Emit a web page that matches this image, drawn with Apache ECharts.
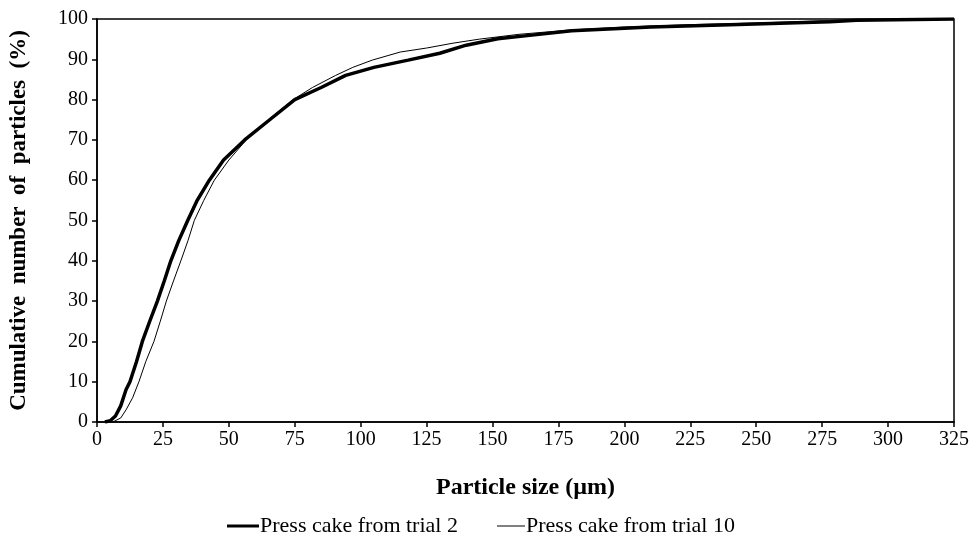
<!DOCTYPE html>
<html>
<head>
<meta charset="utf-8">
<script src="https://cdn.jsdelivr.net/npm/echarts@6/dist/echarts.min.js"></script>
<style>
  html, body { margin: 0; padding: 0; background: #fff; }
  #chart { width: 972px; height: 539px; }
</style>
</head>
<body>
<div id="chart"></div>
<script>
  // particle size (um) and cumulative number (%)
  var sizeTrial2 = [3, 5, 7, 9, 11, 12.5, 15, 17.2, 20, 22.9, 25.5, 28, 31, 34.4, 38, 42.6, 48, 56, 65.5, 75,
    85, 94.3, 105, 118, 130, 140, 152, 165, 180, 210, 240, 278, 288, 325]
  var cumTrial2 = [0, 0.3, 1.5, 4, 8, 10, 15, 20, 25, 30, 35, 40, 45, 50, 55, 60, 65, 70, 75, 80,
    83, 86, 88, 89.8, 91.5, 93.5, 95.1, 96, 97.1, 98, 98.6, 99.3, 99.7, 100]

  var sizeTrial10 = [6, 9, 11, 13.5, 15.9, 18.5, 21.6, 24, 26.3, 29, 31.8, 34.5, 36.9, 40.5, 44.5, 50, 56.6, 65,
    74.4, 81.7, 90.5, 97, 104.4, 115, 125, 135, 145, 160, 180, 200, 225, 250, 288, 325]
  var cumTrial10 = [0, 1, 3, 6, 10, 15, 20, 25, 30, 35, 40, 45, 50, 55, 60, 65, 70, 75,
    80, 83, 86, 88, 89.8, 91.8, 92.8, 94, 95, 96.2, 97.3, 98, 98.6, 99, 99.8, 100]

  var seriesNames = ['Press cake from trial 2', 'Press cake from trial 10']

  function pairs(xs, ys) {
    return xs.map(function (x, i) { return [x, ys[i]] })
  }

  var font = 'Liberation Serif'
  var chart = echarts.init(document.getElementById('chart'))

  chart.setOption({
    backgroundColor: '#fff',
    animation: false,
    grid: {
      left: 97,
      right: 15,
      top: 19,
      bottom: 117,
      show: true,
      borderColor: '#000',
      borderWidth: 1.5
    },
    legend: [{
      data: [seriesNames[0]],
      left: 222,
      top: 510,
      icon: 'rect',
      itemWidth: 32,
      itemHeight: 3,
      textStyle: { fontFamily: font, fontSize: 22, color: '#000', padding: [0, 0, 0, -4] }
    }, {
      data: [seriesNames[1]],
      left: 492,
      top: 510,
      icon: 'rect',
      itemWidth: 28,
      itemHeight: 1,
      textStyle: { fontFamily: font, fontSize: 22, color: '#000', padding: [0, 0, 0, -4] }
    }],
    xAxis: {
      type: 'value',
      min: 0,
      max: 325,
      interval: 25,
      name: 'Particle size (µm)',
      nameLocation: 'middle',
      nameGap: 54,
      nameTextStyle: { fontFamily: font, fontSize: 24, fontWeight: 'bold', color: '#000' },
      axisLine: { lineStyle: { color: '#000', width: 1.5 } },
      axisTick: { length: 5, lineStyle: { color: '#000', width: 1.5 } },
      axisLabel: { fontFamily: font, fontSize: 20, color: '#000', margin: 8 },
      splitLine: { show: false }
    },
    yAxis: {
      type: 'value',
      min: 0,
      max: 100,
      interval: 10,
      name: 'Cumulative  number  of  particles  (%)',
      nameLocation: 'middle',
      nameGap: 66,
      nameTextStyle: { fontFamily: font, fontSize: 23, fontWeight: 'bold', color: '#000' },
      axisLine: { show: true, lineStyle: { color: '#000', width: 1.5 } },
      axisTick: { show: true, length: 5, lineStyle: { color: '#000', width: 1.5 } },
      axisLabel: { fontFamily: font, fontSize: 20, color: '#000', margin: 9 },
      splitLine: { show: false }
    },
    series: [{
      name: seriesNames[0],
      type: 'line',
      showSymbol: false,
      color: '#000',
      lineStyle: { color: '#000', width: 3.5 },
      data: pairs(sizeTrial2, cumTrial2)
    }, {
      name: seriesNames[1],
      type: 'line',
      showSymbol: false,
      color: '#000',
      lineStyle: { color: '#000', width: 1 },
      data: pairs(sizeTrial10, cumTrial10)
    }]
  })
</script>
</body>
</html>
